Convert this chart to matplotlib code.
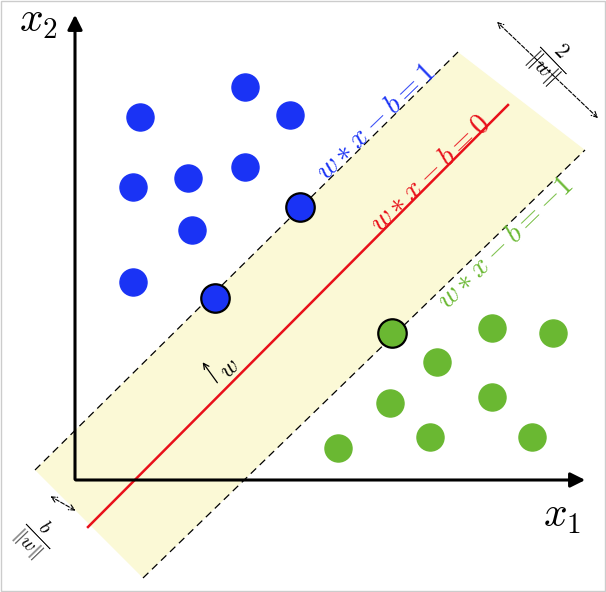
import matplotlib.pyplot as plt
from matplotlib.patches import Polygon

plt.rcParams['mathtext.fontset'] = 'cm'

# data in pixel-like coordinates (y downward)
blue_x = [140, 245, 290, 133, 188, 245, 192, 133]
blue_y = [117, 87, 115, 187, 178, 167, 230, 282]
blue_sv_x = [300, 215]
blue_sv_y = [207, 298]
green_x = [338, 390, 430, 437, 492, 492, 553, 532]
green_y = [448, 403, 437, 362, 328, 397, 333, 437]
green_sv_x = [392]
green_sv_y = [333]

upper_line = ([35, 458], [470, 52])
lower_line = ([143, 585], [578, 150])
center_line = ([88, 508], [527, 105])

fig = plt.figure(figsize=(6.06, 5.92), dpi=100)
ax = fig.add_axes([0, 0, 1, 1])
ax.set_xlim(0, 606)
ax.set_ylim(592, 0)
ax.axis('off')

# margin band
band = Polygon([(upper_line[0][0], upper_line[1][0]), (upper_line[0][1], upper_line[1][1]),
                (lower_line[0][1], lower_line[1][1]), (lower_line[0][0], lower_line[1][0])],
               closed=True, facecolor='#fbf9d6', edgecolor='none', zorder=0)
ax.add_patch(band)

ax.plot(*upper_line, color='black', ls=(0, (6, 4)), lw=0.9, zorder=1)
ax.plot(*lower_line, color='black', ls=(0, (6, 4)), lw=0.9, zorder=1)
ax.plot(*center_line, color='#e8101a', lw=1.8, zorder=1)

# axes arrows
ax.annotate('', xy=(75, 12), xytext=(75, 482),
            arrowprops=dict(arrowstyle='-|>', color='black', lw=2.2, mutation_scale=22))
ax.annotate('', xy=(588, 480), xytext=(73, 480),
            arrowprops=dict(arrowstyle='-|>', color='black', lw=2.2, mutation_scale=22))
ax.text(38, 20, r'$x_2$', fontsize=30, ha='center', va='center')
ax.text(562, 515, r'$x_1$', fontsize=30, ha='center', va='center')

# points
ax.scatter(blue_x, blue_y, s=380, color='#1a33f5', zorder=3)
ax.scatter(blue_sv_x, blue_sv_y, s=420, color='#1a33f5', edgecolor='black', lw=1.6, zorder=3)
ax.scatter(green_x, green_y, s=380, color='#6ab832', zorder=3)
ax.scatter(green_sv_x, green_sv_y, s=420, color='#6ab832', edgecolor='black', lw=1.6, zorder=3)

# line labels
ax.text(376, 122, r'$w * x - b = 1$', color='#1a33f5', fontsize=21, rotation=44,
        ha='center', va='center')
ax.text(430, 173, r'$w * x - b = 0$', color='#e8101a', fontsize=21, rotation=44,
        ha='center', va='center')
ax.text(505, 243, r'$w * x - b = -1$', color='#6ab832', fontsize=21, rotation=44,
        ha='center', va='center')

# w vector
ax.annotate('', xy=(201, 360), xytext=(219, 385),
            arrowprops=dict(arrowstyle='->', color='black', lw=0.9))
ax.text(229, 368, r'$w$', fontsize=17, rotation=44, ha='center', va='center')

# margin width
ax.annotate('', xy=(495, 20), xytext=(600, 120),
            arrowprops=dict(arrowstyle='<->', color='black', lw=0.8, ls='--'))
ax.text(550, 62, r'$\frac{2}{\|w\|}$', fontsize=22, rotation=-46, ha='center', va='center')

# offset b
ax.annotate('', xy=(48, 495), xytext=(78, 512),
            arrowprops=dict(arrowstyle='<->', color='black', lw=0.8, ls='--'))
ax.text(36, 537, r'$\frac{b}{\|w\|}$', fontsize=20, rotation=-46, ha='center', va='center')

# frame
ax.add_patch(plt.Rectangle((1, 1), 604, 590, fill=False, edgecolor='#cccccc', lw=1))

fig.savefig('out.png', dpi=100)
